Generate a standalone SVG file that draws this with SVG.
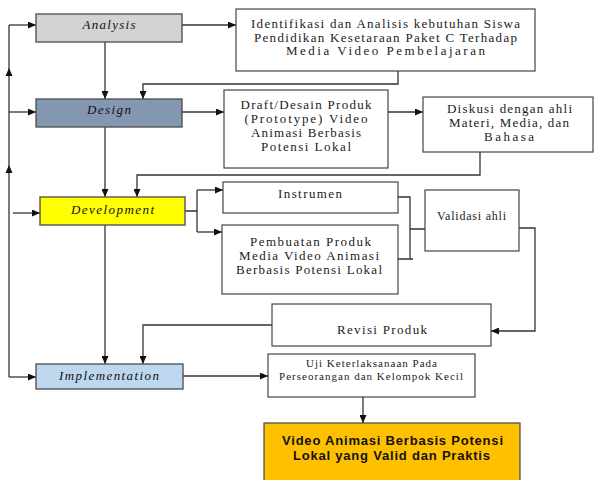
<svg xmlns="http://www.w3.org/2000/svg" width="595" height="480" viewBox="0 0 595 480">
<defs>
<marker id="arr" markerWidth="8" markerHeight="7" refX="8" refY="3.5" orient="auto" markerUnits="userSpaceOnUse">
<path d="M0,0 L8,3.5 L0,7 Z" fill="#111"/>
</marker>
<style>
.box{fill:#fff;stroke:#444;stroke-width:1.2}
.node{stroke:#555;stroke-width:1.4}
.lbl{font-family:"Liberation Serif","Times New Roman",serif;font-style:italic;font-size:13px;fill:#111;text-anchor:middle}
.t{font-family:"Liberation Serif","Times New Roman",serif;font-size:13px;fill:#222;text-anchor:middle}
.ts{font-family:"Liberation Serif","Times New Roman",serif;font-size:11px;fill:#222;text-anchor:middle}
.tb{font-family:"Liberation Sans",Arial,sans-serif;font-weight:bold;font-size:13px;fill:#111;text-anchor:middle}
.c{fill:none;stroke:#333;stroke-width:1.3}
.ca{fill:none;stroke:#333;stroke-width:1.3;marker-end:url(#arr)}
</style>
</defs>
<rect width="595" height="480" fill="#fff"/>

<g id="connectors">
<path class="c" d="M9,377 V25"/>
<path class="ca" d="M9,25 H36"/>
<path class="ca" d="M9,112 H36"/>
<path class="ca" d="M13,213 H40"/>
<path class="ca" d="M9,377 H36"/>
<path d="M9,68 L12.5,76 L5.5,76 Z" fill="#111"/>
<path d="M9,165 L12.5,173 L5.5,173 Z" fill="#111"/>
<path class="ca" d="M182,25 H236"/>
<path class="ca" d="M105,42 V99"/>
<path class="ca" d="M398,71 V84 H143 V99"/>
<path class="ca" d="M182,112 H224"/>
<path class="ca" d="M388,112 H423"/>
<path class="ca" d="M480,152 V175 H137 V197"/>
<path class="ca" d="M105,127 V197"/>
<path class="c" d="M185,211 H197 M197,190 V232"/>
<path class="ca" d="M197,190 H223"/>
<path class="ca" d="M197,232 H222"/>
<path class="c" d="M398,197 H410 V259 M398,259 H413 M410,229 H425"/>
<path class="ca" d="M519,228 H535 V331 H491"/>
<path class="ca" d="M275,325 H143 V364"/>
<path class="ca" d="M105,225 V364"/>
<path class="ca" d="M183,376 H268"/>
<path class="ca" d="M363,397 V423"/>
</g>

<g id="analysis">
<rect class="node" x="36" y="14" width="146" height="28" fill="#d3d3d3"/>
<text class="lbl" x="109" y="29" textLength="53">Analysis</text>
</g>
<g id="design">
<rect class="node" x="36" y="99" width="146" height="28" fill="#8497b0"/>
<text class="lbl" x="109" y="114" textLength="44">Design</text>
</g>
<g id="development">
<rect class="node" x="40" y="197" width="145" height="28" fill="#ffff00"/>
<text class="lbl" x="112.5" y="214" textLength="83">Development</text>
</g>
<g id="implementation">
<rect class="node" x="36" y="364" width="147" height="25" fill="#bdd7ee"/>
<text class="lbl" x="109" y="380" textLength="100">Implementation</text>
</g>

<g id="identifikasi">
<rect class="box" x="236" y="9" width="299" height="62"/>
<text class="t" x="385.5" y="28" textLength="269">Identifikasi dan Analisis kebutuhan Siswa</text>
<text class="t" x="385.5" y="41.5" textLength="263">Pendidikan Kesetaraan Paket C Terhadap</text>
<text class="t" x="385.5" y="55" textLength="199">Media Video Pembelajaran</text>
</g>
<g id="draft">
<rect class="box" x="224" y="90" width="164" height="78"/>
<text class="t" x="306" y="109" textLength="131">Draft/Desain Produk</text>
<text class="t" x="306" y="123" textLength="123">(Prototype) Video</text>
<text class="t" x="306" y="137" textLength="110">Animasi Berbasis</text>
<text class="t" x="306" y="151" textLength="90">Potensi Lokal</text>
</g>
<g id="diskusi">
<rect class="box" x="423" y="97" width="170" height="55"/>
<text class="t" x="509.5" y="113" textLength="125">Diskusi dengan ahli</text>
<text class="t" x="509" y="127" textLength="120">Materi, Media, dan</text>
<text class="t" x="509" y="141" textLength="50">Bahasa</text>
</g>
<g id="instrumen">
<rect class="box" x="223" y="182" width="175" height="31"/>
<text class="t" x="310" y="198" textLength="64">Instrumen</text>
</g>
<g id="pembuatan">
<rect class="box" x="222" y="225" width="176" height="69"/>
<text class="t" x="310.5" y="246" textLength="121">Pembuatan Produk</text>
<text class="t" x="309" y="260" textLength="140">Media Video Animasi</text>
<text class="t" x="309" y="274" textLength="146">Berbasis Potensi Lokal</text>
</g>
<g id="validasi">
<rect class="box" x="425" y="190" width="94" height="61"/>
<text class="t" x="471.5" y="220" textLength="69" style="font-size:12px">Validasi ahli</text>
</g>
<g id="revisi">
<rect class="box" x="272" y="304" width="219" height="42"/>
<text class="t" x="382" y="334" textLength="90">Revisi Produk</text>
</g>
<g id="uji">
<rect class="box" x="268" y="354" width="207" height="43"/>
<text class="ts" x="371.5" y="367" textLength="131">Uji Keterlaksanaan Pada</text>
<text class="ts" x="371" y="380" textLength="184">Perseorangan dan Kelompok Kecil</text>
</g>
<g id="final">
<rect x="264" y="423" width="256" height="70" fill="#ffc000" stroke="#444" stroke-width="1.2"/>
<text class="tb" x="392.5" y="445" textLength="221">Video Animasi Berbasis Potensi</text>
<text class="tb" x="391.5" y="460" textLength="197">Lokal yang Valid dan Praktis</text>
</g>
</svg>
